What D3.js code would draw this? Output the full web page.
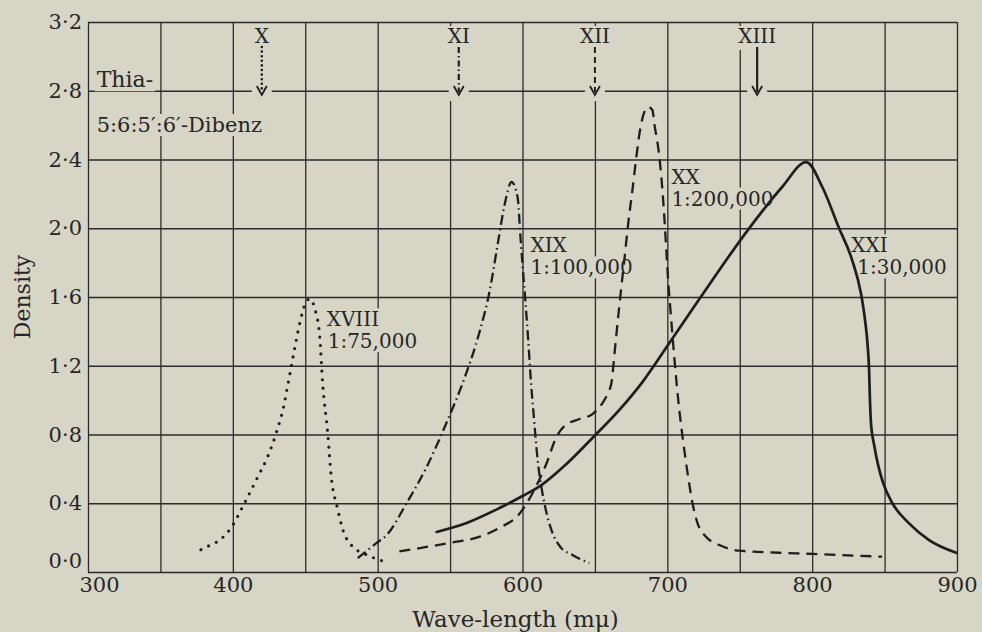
<!DOCTYPE html>
<html><head><meta charset="utf-8">
<script src="https://cdn.jsdelivr.net/npm/d3@7/dist/d3.min.js"></script>
<style>
body{margin:0;background:#d6d5c6;}
svg{display:block;}
</style>
</head><body>
<svg id="chart" width="982" height="632"></svg>
<script>
// ---------------- DATA ----------------
const xTickValues = [300, 400, 500, 600, 700, 800, 900];
const xGridValues = [300, 350, 400, 450, 500, 550, 600, 650, 700, 750, 800, 850, 900];
const yTickValues = [0, 0.4, 0.8, 1.2, 1.6, 2.0, 2.4, 2.8, 3.2];
const yTickLabels = ["0\u00B70", "0\u00B74", "0\u00B78", "1\u00B72", "1\u00B76", "2\u00B70", "2\u00B74", "2\u00B78", "3\u00B72"];

const seriesNames  = ["XVIII", "XIX", "XX", "XXI"];
const seriesRatios = ["1:75,000", "1:100,000", "1:200,000", "1:30,000"];

// XVIII (dotted)
const xviiiWave = [378, 384, 390, 399, 408, 417, 424, 430, 435, 438, 442, 446, 450, 453, 456.5, 460, 462, 465.5, 468, 472, 476, 483, 490, 505];
const xviiiDens = [0.13, 0.155, 0.18, 0.26, 0.40, 0.55, 0.67, 0.81, 0.96, 1.09, 1.27, 1.44, 1.56, 1.59, 1.535, 1.37, 1.10, 0.81, 0.55, 0.38, 0.245, 0.145, 0.11, 0.06];

// XIX (dash-dot)
const xixWave = [486.2, 499.3, 506.2, 520, 533.8, 548.3, 560, 570.3, 577.2, 582.8, 587.6, 592.4, 596.6, 598.6, 600.3, 602.1, 603.8, 605.9, 607.6, 610.7, 613.4, 616.6, 620.7, 626.2, 634.5, 646.2];
const xixDens = [0.081, 0.169, 0.215, 0.401, 0.611, 0.884, 1.129, 1.396, 1.629, 1.903, 2.135, 2.269, 2.182, 1.949, 1.757, 1.565, 1.367, 1.10, 0.925, 0.634, 0.477, 0.343, 0.227, 0.145, 0.099, 0.052];

// XX (dashed)
const xxWave = [515, 550, 570, 584, 598, 607, 616.5, 623.4, 629, 639.3, 648.3, 655.2, 659.3, 661.4, 664.1, 666.9, 670.3, 673.1, 675.9, 678.6, 681.4, 684.1, 686.9, 689.7, 691, 694.5, 696.6, 697.9, 699.3, 700.7, 702, 703.8, 706.2, 708.5, 710.5, 714, 717.4, 720.9, 726.7, 735.9, 749.7, 777.2, 800, 848.3];
const xxDens = [0.12, 0.17, 0.204, 0.256, 0.34, 0.46, 0.63, 0.785, 0.85, 0.89, 0.919, 0.983, 1.047, 1.10, 1.321, 1.553, 1.815, 2.036, 2.222, 2.415, 2.583, 2.676, 2.705, 2.688, 2.61, 2.415, 2.222, 2.066, 1.873, 1.68, 1.54, 1.35, 1.117, 0.925, 0.787, 0.574, 0.40, 0.283, 0.205, 0.157, 0.124, 0.112, 0.105, 0.089];

// XXI (solid)
const xxiWave = [540.7, 561.4, 584.1, 600, 613.1, 630.3, 648.3, 666.9, 682.8, 701.4, 722.1, 756.6, 779.3, 795.9, 807, 818.6, 827.6, 833.7, 836.5, 838.3, 839.3, 839.9, 840.7, 842.8, 845.5, 849, 855.4, 866.9, 880.7, 899.5];
const xxiDens = [0.233, 0.285, 0.372, 0.442, 0.506, 0.628, 0.780, 0.943, 1.105, 1.332, 1.588, 2.001, 2.240, 2.385, 2.24, 2.0, 1.815, 1.62, 1.466, 1.32, 1.175, 1.0, 0.855, 0.739, 0.623, 0.518, 0.40, 0.283, 0.186, 0.112];

// Reference band markers at the top
const markerNames = ["X", "XI", "XII", "XIII"];
const markerWave  = [420, 556, 650, 762];

// ---------------- LAYOUT ----------------
const W = 982, H = 632;
const mLeft = 88, mRight = 957, mTop = 22, mBottom = 572;
const BG = "#d6d5c6", INK = "#2b2b2b";
const FONT = "'DejaVu Serif', 'Liberation Serif', serif";

const svg = d3.select("#chart");
svg.append("rect").attr("width", W).attr("height", H).attr("fill", BG);

const x = d3.scaleLinear().domain([300, 900]).range([mLeft, mRight]);
const y = d3.scaleLinear().domain([0, 3.2]).range([mBottom, mTop]);

// grid
const grid = svg.append("g");
grid.append("g").attr("transform", `translate(0,${mBottom})`)
  .call(d3.axisBottom(x).tickValues(xGridValues).tickSize(-(mBottom - mTop)).tickFormat(""))
  .call(g => g.select(".domain").remove())
  .call(g => g.selectAll("line").attr("stroke", INK).attr("stroke-width", 1.3));
grid.append("g").attr("transform", `translate(${mLeft},0)`)
  .call(d3.axisLeft(y).tickValues(yTickValues).tickSize(-(mRight - mLeft)).tickFormat(""))
  .call(g => g.select(".domain").remove())
  .call(g => g.selectAll("line").attr("stroke", INK).attr("stroke-width", 1.3));

const masks = svg.append("g");
const curves = svg.append("g");
const labels = svg.append("g").attr("font-family", FONT).attr("fill", "#262626");

function addText(px, py, txt, size, anchor) {
  const t = labels.append("text").attr("x", px).attr("y", py)
    .attr("font-size", size).attr("text-anchor", anchor || "start").text(txt);
  const b = t.node().getBBox();
  masks.append("rect").attr("x", b.x - 2).attr("y", b.y + 1).attr("width", b.width + 4).attr("height", b.height - 2).attr("fill", BG);
  return t;
}

// axes
const xAxis = svg.append("g").attr("transform", `translate(0,${mBottom})`)
  .call(d3.axisBottom(x).tickValues(xTickValues).tickSize(0).tickPadding(5).tickFormat(d3.format("d")));
xAxis.select(".domain").remove();
xAxis.selectAll("text").attr("font-family", FONT).attr("font-size", 21).attr("fill", "#262626")
  .attr("dx", (d, i) => i === 0 ? 11 : 0);

const yAxis = svg.append("g").attr("transform", `translate(${mLeft},0)`)
  .call(d3.axisLeft(y).tickValues(yTickValues).tickSize(0).tickPadding(6).tickFormat((d, i) => yTickLabels[i]));
yAxis.select(".domain").remove();
yAxis.selectAll("text").attr("font-family", FONT).attr("font-size", 21).attr("fill", "#262626")
  .attr("dy", (d, i) => i === 0 ? "-0.2em" : "0.32em");

svg.append("text").attr("x", (mLeft + mRight) / 2 - 7).attr("y", 627).attr("text-anchor", "middle")
  .attr("font-family", FONT).attr("font-size", 23).attr("fill", "#262626").text("Wave-length (m\u03BC)");
svg.append("text").attr("transform", `translate(30,${(mTop + mBottom) / 2}) rotate(-90)`).attr("text-anchor", "middle")
  .attr("font-family", FONT).attr("font-size", 22).attr("fill", "#262626").text("Density");

// curves
const line = d3.line().x(d => x(d[0])).y(d => y(d[1])).curve(d3.curveMonotoneX);
const seriesData = [
  d3.zip(xviiiWave, xviiiDens),
  d3.zip(xixWave, xixDens),
  d3.zip(xxWave, xxDens),
  d3.zip(xxiWave, xxiDens)
];
const seriesStyle = [
  {w: 3.2, dash: "0 8.5", cap: "round"},
  {w: 2.3, dash: "10 4 1.5 4", cap: "butt"},
  {w: 2.3, dash: "11 7", cap: "butt"},
  {w: 2.7, dash: null, cap: "round"}
];
seriesData.forEach((s, i) => {
  curves.append("path").attr("d", line(s)).attr("fill", "none")
    .attr("stroke", "#1e1e1e").attr("stroke-width", seriesStyle[i].w)
    .attr("stroke-dasharray", seriesStyle[i].dash).attr("stroke-linecap", seriesStyle[i].cap)
    .attr("stroke-linejoin", "round");
});

// curve labels (anchor in data space: first line baseline-left)
const labelAnchor = [[464.8, 1.43, 1], [605.5, 1.86, 0], [702.8, 2.26, 0], [827, 1.86, 6]];
seriesNames.forEach((n, i) => {
  const [wv, dv, dx2] = labelAnchor[i];
  addText(x(wv), y(dv), n, 20);
  addText(x(wv) + dx2, y(dv) + 22, seriesRatios[i], 20);
});

// compound name
addText(x(306), y(2.82), "Thia-", 22);
addText(x(306), y(2.56), "5:6:5\u2032:6\u2032-Dibenz", 21);

// top markers
const markerStyle = [
  {dash: "0 4.6", cap: "round", w: 2.6},
  {dash: "6 3 1.5 3", cap: "butt", w: 2.2},
  {dash: "6 4", cap: "butt", w: 2.0},
  {dash: null, cap: "butt", w: 2.2}
];
const stemTop = 47, tipY = 95;
markerWave.forEach((wv, i) => {
  const px = x(wv);
  masks.append("rect").attr("x", px - 10).attr("y", 26).attr("width", 20).attr("height", tipY + 6 - 26).attr("fill", BG);
  const t = labels.append("text").attr("x", px).attr("y", 43).attr("text-anchor", "middle")
    .attr("font-size", 20).text(markerNames[i]);
  const b = t.node().getBBox();
  masks.append("rect").attr("x", b.x - 2).attr("y", b.y + 2).attr("width", b.width + 4).attr("height", b.height).attr("fill", BG);
  curves.append("line").attr("x1", px).attr("x2", px).attr("y1", stemTop).attr("y2", tipY - 3)
    .attr("stroke", "#1e1e1e").attr("stroke-width", markerStyle[i].w)
    .attr("stroke-dasharray", markerStyle[i].dash).attr("stroke-linecap", markerStyle[i].cap);
  curves.append("path").attr("d", `M${px - 5},${tipY - 9}L${px},${tipY}L${px + 5},${tipY - 9}`)
    .attr("fill", "none").attr("stroke", "#1e1e1e").attr("stroke-width", 1.8).attr("stroke-linejoin", "miter");
});
</script>
</body></html>
